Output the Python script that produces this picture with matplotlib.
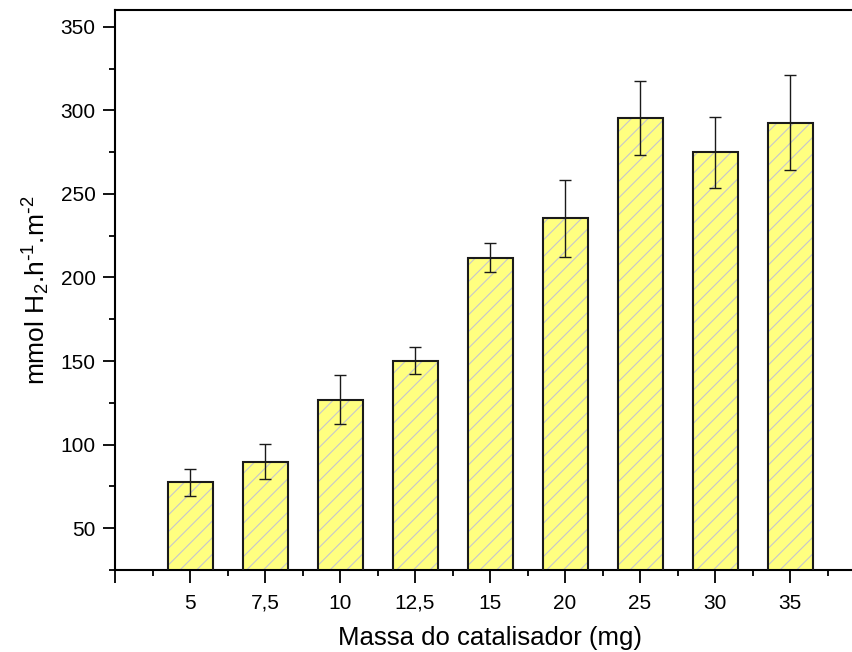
# Produção de H2 em função da massa do catalisador - gráfico de barras

import matplotlib
matplotlib.use('Agg')
import matplotlib.pyplot as plt
from matplotlib.ticker import MultipleLocator
import numpy as np

plt.rcParams['font.family'] = ['Liberation Sans', 'DejaVu Sans']
plt.rcParams['mathtext.default'] = 'regular'
plt.rcParams['hatch.linewidth'] = 0.8

# massa do catalisador (mg), taxa média e desvio
massa = ['5', '7,5', '10', '12,5', '15', '20', '25', '30', '35']
taxa = [77.4, 89.8, 126.8, 150.2, 211.8, 235.4, 295.4, 274.9, 292.6]
desvio = [8.3, 10.3, 14.7, 8.0, 8.7, 23.1, 21.9, 21.2, 28.5]

x = np.arange(len(massa))

fig = plt.figure(figsize=(8.52, 6.52), dpi=100)
ax = fig.add_axes([115 / 852, 82 / 652, 750 / 852, 560 / 652])

# preenchimento amarelo com hachura cinza, depois contorno preto
ax.bar(x, taxa, width=0.6, color='#ffff80', edgecolor='#c6c6cc',
       hatch='//', linewidth=0, zorder=2)
ax.bar(x, taxa, width=0.6, color='none', edgecolor='#1a1a1a',
       linewidth=1.5, zorder=3)
ax.errorbar(x, taxa, yerr=desvio, fmt='none', ecolor='#1a1a1a',
            elinewidth=1.0, capsize=4, capthick=1.0, zorder=4)

ax.set_xlim(-1, 9)
ax.set_ylim(25, 360)

ax.set_xticks(np.arange(-1, len(massa)))
ax.set_xticklabels([''] + massa)
ax.set_xticks(np.arange(-0.5, 9, 1), minor=True)
ax.set_yticks(np.arange(50, 351, 50))
ax.yaxis.set_minor_locator(MultipleLocator(25))

ax.tick_params(axis='both', which='major', direction='out', length=9,
               width=1.3, labelsize=15, pad=5)
ax.tick_params(axis='x', which='major', pad=8)
ax.tick_params(axis='both', which='minor', direction='out', length=4.5,
               width=1.3)

for lado in ['left', 'bottom', 'top']:
    ax.spines[lado].set_linewidth(1.5)
ax.spines['right'].set_visible(False)

ax.set_xlabel('Massa do catalisador (mg)', fontsize=18.5, labelpad=10)
ax.set_ylabel(r'mmol H$_2$.h$^{\text{-}1}$.m$^{\text{-}2}$', fontsize=19,
              labelpad=6)

fig.savefig('out.png', dpi=100)
